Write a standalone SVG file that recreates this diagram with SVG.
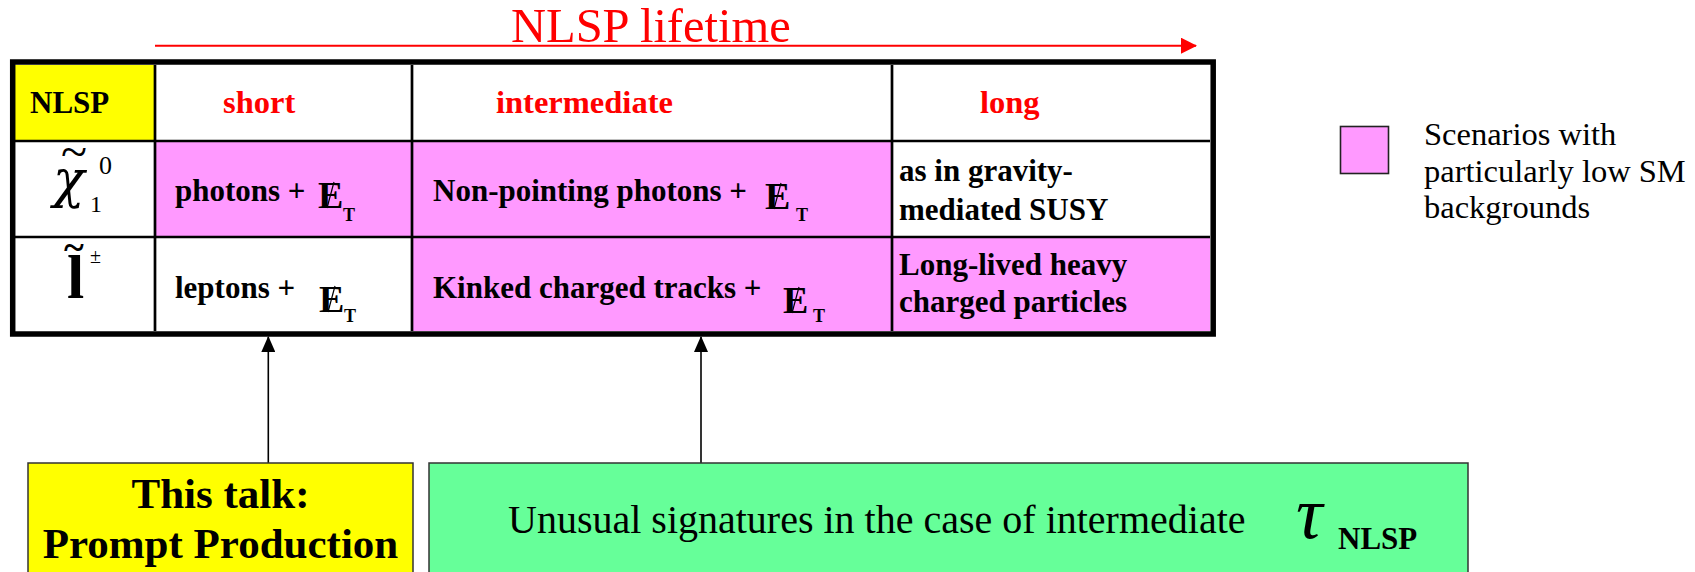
<svg xmlns="http://www.w3.org/2000/svg" width="1695" height="572" viewBox="0 0 1695 572" font-family="'Liberation Serif', 'Times New Roman', serif">
  <defs>
    <style>
      .serif { font-family: "Liberation Serif", "Times New Roman", serif; }
      .hdr { font-family: "Liberation Serif", "Times New Roman", serif; font-weight: bold; font-size: 32.5px; fill: #FF0000; }
      .cell { font-family: "Liberation Serif", "Times New Roman", serif; font-weight: bold; font-size: 31px; fill: #000; }
      .met { font-family: "Liberation Serif", "Times New Roman", serif; font-weight: bold; font-size: 38px; fill: #000; }
      .metsub { font-family: "Liberation Serif", "Times New Roman", serif; font-weight: bold; font-size: 18px; fill: #000; }
      .slash { stroke: #000; stroke-width: 1.2; }
      .grid { stroke: #000; stroke-width: 2.7; fill: none; }
      .frame { stroke: #000; stroke-width: 5.5; fill: none; }
      .pink { fill: #FF99FF; }
      .conn { stroke: #000; stroke-width: 1.6; fill: none; }
      .legend { font-family: "Liberation Serif", "Times New Roman", serif; font-size: 32.5px; fill: #000; }
    </style>
    <marker id="blackHead" viewBox="0 0 16 14" refX="15" refY="7" markerWidth="16" markerHeight="14" markerUnits="userSpaceOnUse" orient="auto">
      <path d="M0,0 L16,7 L0,14 Z" fill="#000"/>
    </marker>
    <marker id="redHead" viewBox="0 0 16 16" refX="15" refY="8" markerWidth="16" markerHeight="16" markerUnits="userSpaceOnUse" orient="auto">
      <path d="M0,0 L16,8 L0,16 Z" fill="#FF0000"/>
    </marker>
  </defs>

  <rect width="1695" height="572" fill="#FFFFFF"/>

  <!-- lifetime axis -->
  <g id="lifetime-axis">
    <line x1="155" y1="45.7" x2="1196" y2="45.7" stroke="#FF0000" stroke-width="2" marker-end="url(#redHead)"/>
    <text x="511" y="42" class="serif" font-size="48.5" fill="#FF0000">NLSP lifetime</text>
  </g>

  <!-- table -->
  <g id="table">
    <rect x="15" y="65" width="140" height="76" fill="#FFFF00"/>
    <rect x="155" y="141" width="737" height="96" class="pink"/>
    <rect x="412" y="237" width="480" height="94" class="pink"/>
    <rect x="892" y="237" width="318" height="94" class="pink"/>

    <line x1="155" y1="65" x2="155" y2="331" class="grid"/>
    <line x1="412" y1="65" x2="412" y2="331" class="grid"/>
    <line x1="892" y1="65" x2="892" y2="331" class="grid"/>
    <line x1="15" y1="141" x2="1210" y2="141" class="grid"/>
    <line x1="15" y1="237" x2="1210" y2="237" class="grid"/>
    <rect x="12.7" y="62" width="1200.5" height="272" class="frame"/>

    <!-- header row -->
    <text x="30" y="113" class="cell" font-size="33px">NLSP</text>
    <text x="223" y="113" class="hdr">short</text>
    <text x="496" y="113" class="hdr">intermediate</text>
    <text x="980" y="113" class="hdr">long</text>

    <!-- neutralino row -->
    <text x="53" y="197" font-family="'DejaVu Serif', 'Liberation Serif', serif" font-size="52" font-style="italic">χ</text>
    <text x="61" y="168" class="serif" font-size="48">~</text>
    <text x="99" y="174" class="serif" font-size="26">0</text>
    <text x="90" y="212" class="serif" font-size="24">1</text>

    <text x="175" y="201" class="cell">photons +</text>
    <text x="318" y="208" class="met">E</text>
    <line x1="327" y1="208" x2="334" y2="182" class="slash"/>
    <text x="343" y="221" class="metsub">T</text>

    <text x="433" y="201" class="cell">Non-pointing photons +</text>
    <text x="765" y="209" class="met">E</text>
    <line x1="774" y1="209" x2="781" y2="183" class="slash"/>
    <text x="796" y="221" class="metsub">T</text>

    <text x="899" y="181" class="cell">as in gravity-</text>
    <text x="899" y="220" class="cell">mediated SUSY</text>

    <!-- slepton row -->
    <text x="67" y="298" class="serif" font-size="62" font-weight="bold">l</text>
    <text x="64" y="260" class="serif" font-size="38" font-weight="bold">~</text>
    <text x="90" y="263" class="serif" font-size="20">±</text>

    <text x="175" y="298" class="cell">leptons +</text>
    <text x="319" y="312" class="met">E</text>
    <line x1="328" y1="312" x2="335" y2="286" class="slash"/>
    <text x="344" y="322" class="metsub">T</text>

    <text x="433" y="298" class="cell">Kinked charged tracks +</text>
    <text x="783" y="313" class="met">E</text>
    <line x1="792" y1="313" x2="799" y2="287" class="slash"/>
    <text x="813" y="322" class="metsub">T</text>

    <text x="899" y="275" class="cell">Long-lived heavy</text>
    <text x="899" y="312" class="cell">charged particles</text>
  </g>

  <!-- legend -->
  <g id="legend">
    <rect x="1340.5" y="126.5" width="48" height="47" class="pink" stroke="#222" stroke-width="1.6"/>
    <text x="1424" y="145" class="legend">Scenarios with</text>
    <text x="1424" y="182" class="legend">particularly low SM</text>
    <text x="1424" y="218" class="legend">backgrounds</text>
  </g>

  <!-- connectors -->
  <g id="connectors">
    <line x1="268.3" y1="463" x2="268.3" y2="337" class="conn" marker-end="url(#blackHead)"/>
    <line x1="701" y1="463" x2="701" y2="337" class="conn" marker-end="url(#blackHead)"/>
  </g>

  <!-- boxes below the table -->
  <g id="prompt-box">
    <rect x="28" y="463" width="385" height="120" fill="#FFFF00" stroke="#333" stroke-width="1.5"/>
    <text x="220.5" y="508" class="serif" font-size="43" font-weight="bold" text-anchor="middle">This talk:</text>
    <text x="220.5" y="558" class="serif" font-size="43" font-weight="bold" text-anchor="middle">Prompt Production</text>
  </g>

  <g id="signatures-box">
    <rect x="429" y="463" width="1039" height="120" fill="#66FF99" stroke="#333" stroke-width="1.5"/>
    <text x="508" y="533" class="serif" font-size="40">Unusual signatures in the case of intermediate</text>
    <text x="1296" y="538" class="serif" font-size="74" font-style="italic">τ</text>
    <text x="1338" y="549" class="serif" font-size="31" font-weight="bold">NLSP</text>
  </g>
</svg>
